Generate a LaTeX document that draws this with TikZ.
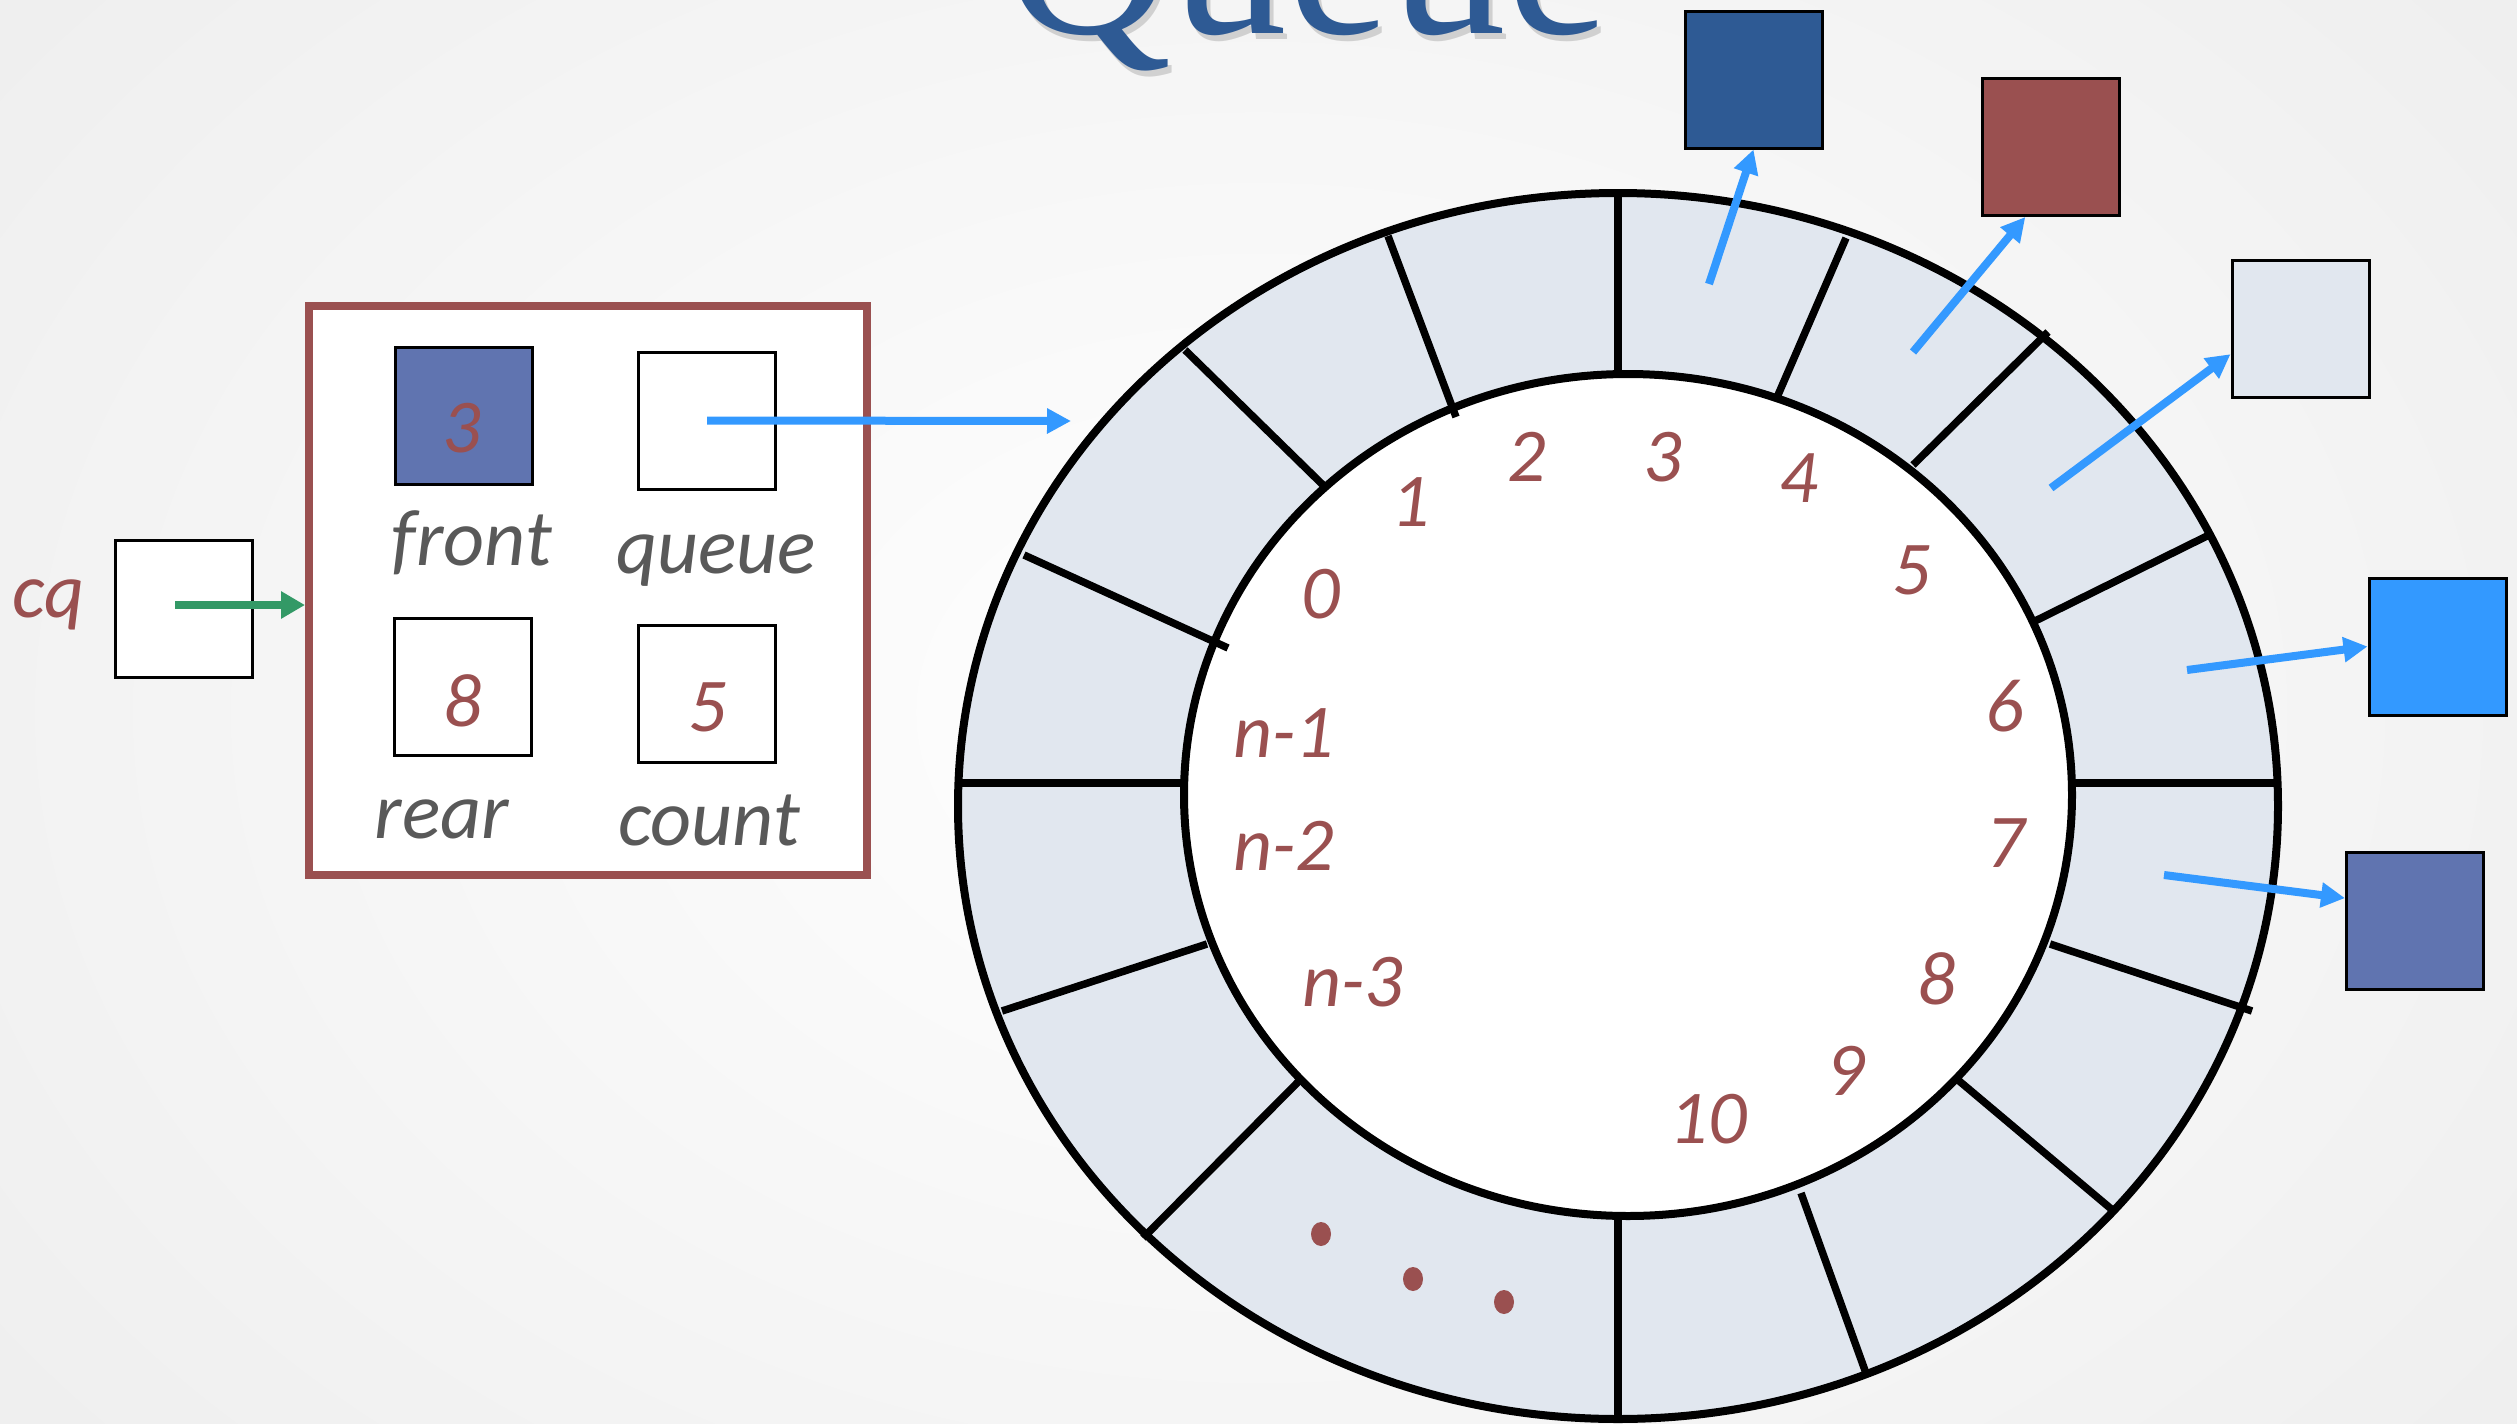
\documentclass[tikz,border=0pt]{standalone}
\usepackage{fontspec}
\setmainfont{Carlito}
\newfontfamily\titlefont{Liberation Serif}
\usetikzlibrary{arrows.meta,calc}
\definecolor{ringfill}{HTML}{E1E7EF}
\definecolor{redbrown}{HTML}{9A5050}
\definecolor{labgray}{HTML}{595959}
\definecolor{arrowblue}{HTML}{3399FF}
\definecolor{darkblue}{HTML}{2E5A94}
\definecolor{midblue}{HTML}{6074B0}
\definecolor{seagreen}{HTML}{339966}
\definecolor{bggray}{HTML}{EBEBEB}
\begin{document}
\begin{tikzpicture}[x=1pt,y=-1pt,
  sq/.style={draw=black, line width=3pt, minimum width=137pt, minimum height=137pt, inner sep=0pt},
  divider/.style={line width=7.5pt},
  ringline/.style={line width=8pt},
  ringlab/.style={text=redbrown, font=\itshape\fontsize{76}{80}\selectfont, inner sep=0pt},
  fieldlab/.style={text=labgray, font=\itshape\fontsize{80}{84}\selectfont, anchor=base, inner sep=0pt},
  ptr/.style={draw=arrowblue, line width=8pt, -{Triangle[length=24pt,width=24pt]}},
  gptr/.style={draw=seagreen, line width=8pt, -{Triangle[length=24pt,width=26pt]}},
  dot/.style={fill=redbrown}
]
\useasboundingbox (0,0) rectangle (2517,1424);
\clip (0,0) rectangle (2517,1424);
\shade[inner color=white, outer color=bggray] (-700,-700) rectangle (3217,2124);

% title
\node[anchor=base, inner sep=0pt, text=black, opacity=0.15, font=\titlefont\fontsize{232}{240}\selectfont] (titleshadow) at (1311,39) {Queue};
\node[anchor=base, inner sep=0pt, text=darkblue, font=\titlefont\fontsize{232}{240}\selectfont] (title) at (1307,33) {Queue};

% ring
\fill[ringfill] (1618,806) ellipse [x radius=660pt, y radius=613pt];
\fill[white] (1628,795) ellipse [x radius=444pt, y radius=421pt];
\draw[divider] (1618,374) -- (1618,193);
\draw[divider] (1456,417) -- (1388,236);
\draw[divider] (1324,486) -- (1185,350);
\draw[divider] (1228,648) -- (1024,555);
\draw[divider] (1185,783) -- (958,783);
\draw[divider] (1207,944) -- (1002,1011);
\draw[divider] (1300,1080) -- (1143,1238);
\draw[divider] (1618,1215) -- (1618,1420);
\draw[divider] (1801,1193) -- (1867,1376);
\draw[divider] (1958,1080) -- (2116,1213);
\draw[divider] (2050,944) -- (2252,1011);
\draw[divider] (2074,783) -- (2276,783);
\draw[divider] (2031,623) -- (2209,535);
\draw[divider] (1913,465) -- (2048,332);
\draw[divider] (1778,395) -- (1846,238);
\draw[ringline] (1618,806) ellipse [x radius=660pt, y radius=613pt];
\draw[ringline] (1628,795) ellipse [x radius=444pt, y radius=421pt];

% ring labels
\node[ringlab] (l0) at (1321,594) {0};
\node[ringlab] (l1) at (1411,502) {1};
\node[ringlab] (l2) at (1527,457) {2};
\node[ringlab] (l3) at (1663,457) {3};
\node[ringlab] (l4) at (1799,478) {4};
\node[ringlab] (l5) at (1912,570) {5};
\node[ringlab] (l6) at (2005,706) {6};
\node[ringlab] (l7) at (2006,843) {7};
\node[ringlab] (l8) at (1937,979) {8};
\node[ringlab] (l9) at (1846,1071) {9};
\node[ringlab] (l10) at (1708,1119) {10};
\node[ringlab] (ln3) at (1353,982) {n-3};
\node[ringlab] (ln2) at (1284,846) {n-2};
\node[ringlab] (ln1) at (1284,733) {n-1};
\fill[dot] (1321,1234) ellipse [x radius=10pt, y radius=12pt];
\fill[dot] (1413,1279) ellipse [x radius=10pt, y radius=12pt];
\fill[dot] (1504,1302) ellipse [x radius=10pt, y radius=12pt];

% element squares
\node[sq, fill=darkblue] (sq3) at (1753.5,79.5) {};
\node[sq, fill=redbrown] (sq4) at (2050.5,147) {};
\node[sq, fill=ringfill] (sq5) at (2300.5,329) {};
\node[sq, fill=arrowblue] (sq6) at (2437.5,646.5) {};
\node[sq, fill=midblue] (sq7) at (2415,920.5) {};

\coordinate (c3) at (1709,284);
\coordinate (c4) at (1913,352);
\coordinate (c5) at (2051,488);
\coordinate (c6) at (2187,670);
\coordinate (c7) at (2164,875);
\draw[ptr] (c3) -- (sq3.south);
\draw[ptr] (c4) -- ($(sq4.south west)!0.32!(sq4.south east)$);
\draw[ptr] (c5) -- ($(sq5.north west)!0.68!(sq5.south west)$);
\draw[ptr] (c6) -- (sq6.west);
\draw[ptr] (c7) -- ($(sq7.north west)!0.34!(sq7.south west)$);

% struct box
\node[draw=redbrown, fill=white, line width=8pt, minimum width=558pt, minimum height=569pt, inner sep=0pt] (box) at (588,590.5) {};
\node[sq, fill=midblue] (front) at (463.5,415.5) {};
\node[ringlab] (frontval) at (462,428) {3};
\node[sq, fill=white] (queue) at (707,420.5) {};
\node[sq, fill=white] (rear) at (462.5,686.5) {};
\node[ringlab] (rearval) at (463,701) {8};
\node[sq, fill=white] (count) at (707,693.5) {};
\node[ringlab] (countval) at (708,707) {5};
\node[fieldlab] (frontlab) at (472,565) {front};
\node[fieldlab] (queuelab) at (716,573) {queue};
\node[fieldlab] (rearlab) at (442,838) {rear};
\node[fieldlab] (countlab) at (709,845) {count};

\coordinate (ringpt) at (1071,421);
\draw[ptr] (queue.center) -- (ringpt);

% cq
\node[sq, fill=white] (cq) at (183.5,608.5) {};
\node[ringlab, font=\itshape\fontsize{78}{82}\selectfont] (cqlab) at (49,605) {cq};
\coordinate (cqstart) at (175,605);
\draw[gptr] (cqstart) -- (cqstart -| box.west);
\end{tikzpicture}
\end{document}
